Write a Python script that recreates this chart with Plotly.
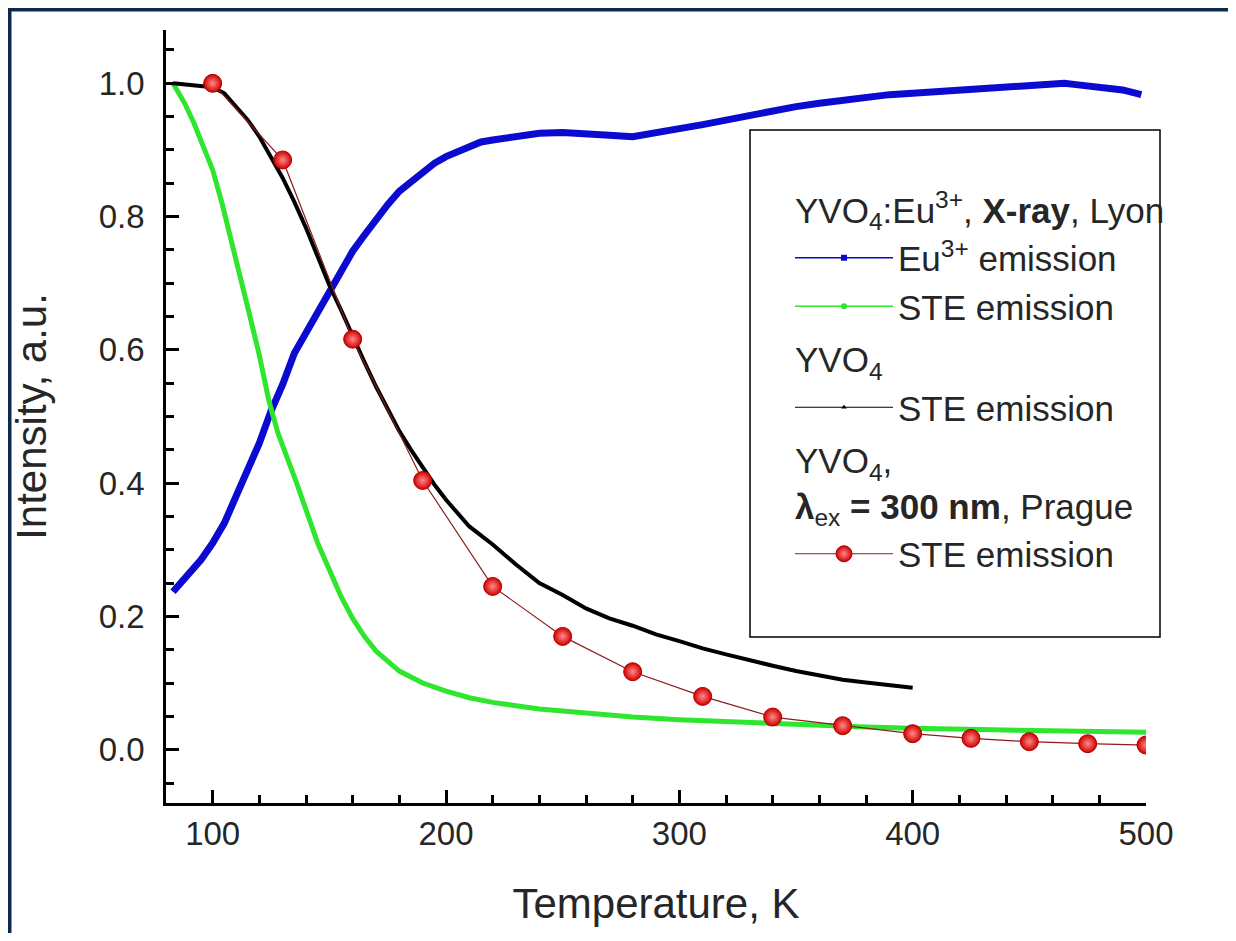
import plotly.graph_objects as go

# ---- data ----
eu_T = [83, 90, 95, 100, 105, 110, 115, 120, 125, 130, 135, 140, 145, 150, 155, 160, 165, 170,
        175, 180, 185, 190, 195, 200, 205, 210, 215, 220, 230, 240, 250, 260, 270, 280, 290,
        300, 310, 320, 330, 340, 350, 360, 370, 380, 390, 400, 410, 420, 430, 440, 450, 460,
        465, 470, 480, 490, 498]
eu_I = [0.237, 0.265, 0.285, 0.310, 0.340, 0.380, 0.420, 0.460, 0.508, 0.548, 0.595, 0.625,
        0.660, 0.690, 0.718, 0.748, 0.772, 0.797, 0.818, 0.838, 0.853, 0.867, 0.880, 0.890,
        0.898, 0.905, 0.912, 0.915, 0.921, 0.925, 0.926, 0.925, 0.922, 0.920, 0.925, 0.932,
        0.938, 0.945, 0.952, 0.958, 0.965, 0.970, 0.975, 0.980, 0.983, 0.985, 0.987, 0.990,
        0.992, 0.994, 0.996, 0.999, 1.000, 0.998, 0.995, 0.990, 0.983]

steEu_T = [83, 88, 92, 96, 100, 104, 108, 112, 116, 120, 124, 128, 132, 136, 140, 145, 150, 155,
           160, 165, 170, 175, 180, 190, 200, 210, 220, 230, 240, 260, 280, 300, 320, 340, 360,
           380, 400, 420, 440, 460, 480, 500]
steEu_I = [1.000, 0.970, 0.940, 0.905, 0.870, 0.820, 0.765, 0.710, 0.650, 0.592, 0.525, 0.475,
           0.440, 0.400, 0.360, 0.310, 0.270, 0.230, 0.197, 0.170, 0.148, 0.133, 0.118, 0.100,
           0.088, 0.078, 0.071, 0.066, 0.061, 0.055, 0.049, 0.045, 0.042, 0.039, 0.036, 0.034,
           0.032, 0.031, 0.029, 0.028, 0.027, 0.026]

steY_T = [83, 90, 100, 105, 110, 115, 120, 125, 130, 135, 140, 145, 150, 155, 160, 165, 170, 175,
          180, 185, 190, 195, 200, 205, 210, 220, 230, 240, 250, 260, 270, 280, 290, 300, 310,
          320, 330, 340, 350, 360, 370, 380, 390, 400]
steY_I = [1.000, 0.998, 0.994, 0.985, 0.965, 0.945, 0.920, 0.890, 0.858, 0.822, 0.783, 0.740,
          0.697, 0.660, 0.620, 0.582, 0.545, 0.510, 0.478, 0.450, 0.423, 0.398, 0.375, 0.355,
          0.335, 0.308, 0.278, 0.250, 0.232, 0.212, 0.197, 0.186, 0.173, 0.163, 0.152, 0.143,
          0.134, 0.126, 0.118, 0.111, 0.105, 0.101, 0.097, 0.093]

prague_T = [100, 130, 160, 190, 220, 250, 280, 310, 340, 370, 400, 425, 450, 475, 500]
prague_I = [1.000, 0.885, 0.616, 0.404, 0.245, 0.170, 0.117, 0.080, 0.049, 0.036, 0.024,
            0.017, 0.012, 0.009, 0.007]

x_ticks = [100, 200, 300, 400, 500]
y_ticks = [0.0, 0.2, 0.4, 0.6, 0.8, 1.0]

FONT = "Liberation Sans, Arial, sans-serif"
TXT = "#262626"
BLUE = "#0a0ad0"
GREEN = "#2ee62e"
BLACK = "#000000"
DARKRED = "#8b1c1c"

G1 = "YVO<sub>4</sub>:Eu<sup>3+</sup>, <b>X-ray</b>, Lyon"
G2 = "YVO<sub>4</sub>"
G3 = "YVO<sub>4</sub>,<br><b>λ</b><sub>ex</sub><b> = 300 nm</b>, Prague"
LFS = 35

fig = go.Figure()

# visible data curves
fig.add_trace(go.Scatter(x=eu_T, y=eu_I, mode="lines", line=dict(color=BLUE, width=7),
                         showlegend=False, hoverinfo="skip"))
fig.add_trace(go.Scatter(x=steEu_T, y=steEu_I, mode="lines", line=dict(color=GREEN, width=5),
                         showlegend=False, hoverinfo="skip"))
fig.add_trace(go.Scatter(x=steY_T, y=steY_I, mode="lines", line=dict(color=BLACK, width=4),
                         showlegend=False, hoverinfo="skip"))

# legend proxies (thin lines with small markers, as in the original legend)
fig.add_trace(go.Scatter(x=[None], y=[None], mode="lines+markers", name="Eu<sup>3+</sup> emission",
                         line=dict(color=BLUE, width=1.5), marker=dict(symbol="square", size=6, color=BLUE),
                         legendgroup="g1", legendgrouptitle=dict(text=G1, font=dict(size=LFS))))
fig.add_trace(go.Scatter(x=[None], y=[None], mode="lines+markers", name="STE emission",
                         line=dict(color=GREEN, width=1.5), marker=dict(symbol="circle", size=6, color=GREEN),
                         legendgroup="g1"))
fig.add_trace(go.Scatter(x=[None], y=[None], mode="lines+markers", name="STE emission",
                         line=dict(color=BLACK, width=1.2), marker=dict(symbol="triangle-up", size=5, color=BLACK),
                         legendgroup="g2", legendgrouptitle=dict(text=G2, font=dict(size=LFS))))

# Prague data: red spheres
fig.add_trace(go.Scatter(x=prague_T, y=prague_I, mode="lines+markers", name="STE emission",
                         line=dict(color=DARKRED, width=1.2),
                         marker=dict(symbol="circle", size=18, color="#d00000",
                                     gradient=dict(type="radial", color="#ff8a8a"),
                                     line=dict(color="#b00000", width=1)),
                         legendgroup="g3", legendgrouptitle=dict(text=G3, font=dict(size=LFS))))

axis_common = dict(showline=True, linecolor="black", linewidth=2.5, ticks="inside",
                   ticklen=13, tickwidth=2.5, tickcolor="black", showgrid=False, zeroline=False,
                   mirror=False, tickfont=dict(family=FONT, size=33, color=TXT))

fig.update_xaxes(**axis_common, range=[80, 500], tickvals=x_ticks, ticklabelstandoff=0,
                 minor=dict(dtick=20, ticks="inside", ticklen=8, tickwidth=2.5, tickcolor="black"),
                 title=dict(text="Temperature, K", font=dict(family=FONT, size=42, color=TXT),
                            standoff=38))
fig.update_yaxes(**axis_common, range=[-0.08, 1.08], tickvals=y_ticks, tickformat=".1f",
                 ticklabelstandoff=12,
                 minor=dict(dtick=0.05, ticks="inside", ticklen=8, tickwidth=2.5, tickcolor="black"),
                 title=dict(text="Intensity, a.u.", font=dict(family=FONT, size=42, color=TXT),
                            standoff=40))

# page has an 8px body margin; layout numbers below are in page pixels
OFF = 8
W, H = 1236 - 2 * OFF, 941 - 2 * OFF
L, T = 166 - OFF, 30 - OFF
R = W - (1146 - OFF)
B = H - (803 - OFF)
PW, PH = W - L - R, H - T - B


def px(x):
    return (x - OFF - L) / PW


def py(y):
    return (H - B - (y - OFF)) / PH


shapes = [
    # legend frame
    dict(type="rect", xref="paper", yref="paper", x0=px(750), x1=px(1160), y0=py(637), y1=py(130),
         line=dict(color="black", width=1.5), fillcolor="white", layer="below"),
    # image border (navy on top and left)
    dict(type="line", xref="paper", yref="paper", x0=px(0), x1=px(1240), y0=py(OFF + 1.5), y1=py(OFF + 1.5),
         line=dict(color="#0c2a50", width=4)),
    dict(type="line", xref="paper", yref="paper", x0=px(OFF + 1.5), x1=px(OFF + 1.5), y0=py(OFF), y1=py(945),
         line=dict(color="#0c2a50", width=4)),
]

fig.update_layout(
    width=W, height=H,
    margin=dict(l=L, r=R, t=T, b=B, pad=0),
    paper_bgcolor="white", plot_bgcolor="rgba(0,0,0,0)",
    font=dict(family=FONT, color=TXT),
    shapes=shapes,
    legend=dict(x=px(790), y=py(180), xanchor="left", yanchor="top",
                bgcolor="rgba(0,0,0,0)", borderwidth=0,
                font=dict(family=FONT, size=LFS, color=TXT),
                itemwidth=98, tracegroupgap=4, traceorder="grouped",
                itemclick=False, itemdoubleclick=False),
)

fig.write_html("out.html")
